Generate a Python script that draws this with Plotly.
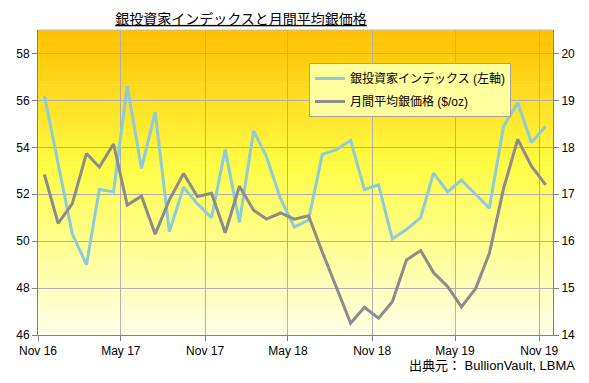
import plotly.graph_objects as go

months = ["2016-11-15", "2016-12-15", "2017-01-15", "2017-02-15", "2017-03-15", "2017-04-15",
          "2017-05-15", "2017-06-15", "2017-07-15", "2017-08-15", "2017-09-15", "2017-10-15",
          "2017-11-15", "2017-12-15", "2018-01-15", "2018-02-15", "2018-03-15", "2018-04-15",
          "2018-05-15", "2018-06-15", "2018-07-15", "2018-08-15", "2018-09-15", "2018-10-15",
          "2018-11-15", "2018-12-15", "2019-01-15", "2019-02-15", "2019-03-15", "2019-04-15",
          "2019-05-15", "2019-06-15", "2019-07-15", "2019-08-15", "2019-09-15", "2019-10-15",
          "2019-11-15"]

investor_index = [56.2, 53.3, 50.3, 49.0, 52.2, 52.1, 56.6, 53.1, 55.5, 50.4, 52.3, 51.6,
                  51.0, 53.9, 50.8, 54.7, 53.6, 51.8, 50.6, 50.9, 53.7, 53.9, 54.3, 52.2,
                  52.4, 50.1, 50.5, 51.0, 52.9, 52.1, 52.6, 52.0, 51.4, 54.9, 55.9, 54.2,
                  54.9]

silver_price = [17.42, 16.38, 16.80, 17.87, 17.58, 18.07, 16.77, 16.96, 16.15, 16.88, 17.44, 16.95,
                17.02, 16.18, 17.17, 16.66, 16.47, 16.60, 16.47, 16.54, 15.77, 15.03, 14.25, 14.59,
                14.36, 14.71, 15.60, 15.80, 15.33, 15.03, 14.60, 14.99, 15.74, 17.12, 18.17, 17.60,
                17.20]

name_index = "銀投資家インデックス (左軸)"
name_price = "月間平均銀価格 ($/oz)"
title_text = "銀投資家インデックスと月間平均銀価格"
source_text = "出典元： BullionVault, LBMA"

# page body has an 8px default margin; work in window pixels and convert
OFF = 8
W, H = 589 - OFF, 383 - OFF
PL, PR, PT, PB = 38, 553, 30, 335  # plot area in window pixels
ml, mr, mt, mb = PL - OFF, (W + OFF) - PR, PT - OFF, (H + OFF) - PB
pw, ph = PR - PL, PB - PT

def px_x(x):
    return (x - PL) / pw

def px_y(y):
    return (PB - y) / ph

fig = go.Figure()
fig.add_trace(go.Scatter(x=months, y=investor_index, name=name_index, mode="lines",
                         line=dict(color="#8ECBD8", width=3), legendgroup="a"))
fig.add_trace(go.Scatter(x=months, y=silver_price, name=name_price, mode="lines",
                         line=dict(color="#8C8C8C", width=3), legendgroup="b", yaxis="y2"))

# gradient background for plot area
def lerp(c1, c2, t):
    return tuple(round(a + (b - a) * t) for a, b in zip(c1, c2))

stops = [(0.0, (255, 192, 0)), (0.45, (255, 252, 70)), (1.0, (255, 255, 232))]
n = 90
shapes = []
for i in range(n):
    t = (i + 0.5) / n  # from top
    for j in range(len(stops) - 1):
        if stops[j][0] <= t <= stops[j + 1][0]:
            tt = (t - stops[j][0]) / (stops[j + 1][0] - stops[j][0])
            c = lerp(stops[j][1], stops[j + 1][1], tt)
            break
    y1 = 1 - i / n
    y0 = 1 - (i + 1) / n - 0.002
    shapes.append(dict(type="rect", xref="paper", yref="paper", x0=0, x1=1,
                       y0=max(y0, 0), y1=y1, fillcolor="rgb(%d,%d,%d)" % c,
                       line=dict(width=0), layer="below"))
shapes.append(dict(type="line", xref="paper", yref="paper", x0=0, x1=1, y0=1, y1=1,
                   line=dict(color="#BFBFBF", width=1)))

fig.update_layout(
    width=W, height=H,
    margin=dict(l=ml, r=mr, t=mt, b=mb, autoexpand=False),
    paper_bgcolor="white", plot_bgcolor="rgba(0,0,0,0)",
    font=dict(family="Liberation Sans, Arial, sans-serif", size=12, color="#000000"),
    title=dict(text="<span style='text-decoration:underline'>" + title_text + "</span>",
               x=(241 - OFF) / W, xanchor="center", y=1 - (19 - OFF) / H, yanchor="middle",
               font=dict(family="Noto Sans CJK JP", size=14, color="#000000")),
    shapes=shapes,
    showlegend=True,
    legend=dict(x=px_x(309), y=px_y(63), xanchor="left", yanchor="top",
                bgcolor="#FFFF9E", bordercolor="#A0A0A0", borderwidth=1,
                font=dict(family="Liberation Sans, Noto Sans CJK JP", size=12, color="#000000"),
                traceorder="grouped", tracegroupgap=4, itemwidth=30),
    xaxis=dict(type="date", range=["2016-11-01", "2019-12-01"],
               tick0="2016-11-01", dtick="M6", tickformat="%b %y",
               showgrid=True, gridcolor="#AFAFAF", gridwidth=1,
               showline=True, linecolor="#808080", linewidth=1,
               ticks="outside", ticklen=5, tickcolor="#808080",
               tickfont=dict(size=12), zeroline=False),
    yaxis=dict(range=[46, 59], tickvals=[46, 48, 50, 52, 54, 56, 58],
               showgrid=True, gridcolor="#AFAFAF", gridwidth=1,
               showline=True, linecolor="#808080", linewidth=1,
               ticks="outside", ticklen=5, tickcolor="#808080",
               tickfont=dict(size=12), zeroline=False),
    yaxis2=dict(range=[14, 20.5], tickvals=[14, 15, 16, 17, 18, 19, 20],
                overlaying="y", side="right", showgrid=False,
                showline=True, linecolor="#808080", linewidth=1,
                ticks="outside", ticklen=5, tickcolor="#808080",
                tickfont=dict(size=12), zeroline=False),
    annotations=[dict(text=source_text, xref="paper", yref="paper",
                      x=px_x(577), y=px_y(365), xanchor="right", yanchor="middle",
                      showarrow=False,
                      font=dict(family="Liberation Sans, Noto Sans CJK JP", size=13,
                                color="#000000"))],
)

fig.write_html("out.html")
